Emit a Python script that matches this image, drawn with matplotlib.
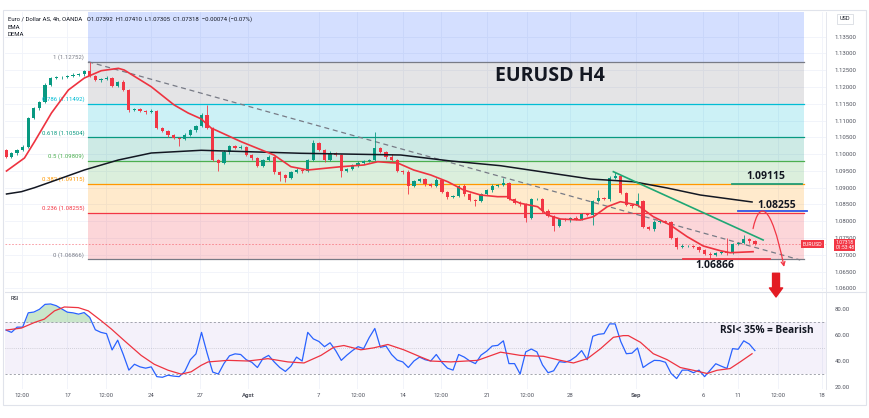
import matplotlib
matplotlib.use("Agg")
import matplotlib.pyplot as plt
import numpy as np
from matplotlib.path import Path
from matplotlib.patches import FancyArrowPatch, Rectangle

plt.rcParams['font.family'] = ['Roboto', 'DejaVu Sans']

# EURUSD 4h chart, candles in 8h steps
# x axis = trading-day index (weekends skipped), Jul 17 = 0
bar_step = 1 / 3
first_bar = -11 / 3
open0 = 1.10123
closes = [1.09914, 1.10033, 1.10123, 1.10212, 1.11076, 1.11374, 1.11553, 1.12059, 1.12267, 1.12297,
          1.12297, 1.12327, 1.12357, 1.12387, 1.12476, 1.12327, 1.12208, 1.12238, 1.12267, 1.12029,
          1.12148, 1.11910, 1.11314, 1.11344, 1.11284, 1.11255, 1.11284, 1.10778, 1.10689, 1.10569,
          1.10480, 1.10450, 1.10569, 1.10718, 1.10838, 1.11165, 1.10778, 1.09825, 1.09735, 1.10063,
          1.10242, 1.10182, 1.10212, 1.09974, 1.09884, 1.09646, 1.09825, 1.09914, 1.09467, 1.09378,
          1.09289, 1.09467, 1.09527, 1.09497, 1.09825, 1.10331, 1.10123, 1.09825, 1.10033, 1.09974,
          1.09497, 1.09557, 1.09676, 1.09735, 1.09795, 1.09825, 1.10182, 1.10063, 1.09914, 1.09825,
          1.09497, 1.09467, 1.09050, 1.09199, 1.09259, 1.09110, 1.09050, 1.09229, 1.08872, 1.08723,
          1.08752, 1.09050, 1.08812, 1.08633, 1.08603, 1.08812, 1.08931, 1.09050, 1.09080, 1.09140,
          1.08663, 1.08544, 1.08514, 1.08097, 1.08663, 1.08663, 1.08306, 1.08157, 1.07859, 1.08067,
          1.08037, 1.08097, 1.08067, 1.08216, 1.08186, 1.08603, 1.08693, 1.08663, 1.09289, 1.09348,
          1.08842, 1.08484, 1.08454, 1.08603, 1.07829, 1.07769, 1.07978, 1.08008, 1.07978, 1.07501,
          1.07233, 1.07263, 1.07263, 1.07233, 1.07144, 1.07025, 1.06995, 1.07054, 1.07084, 1.07054,
          1.07323, 1.07352, 1.07471, 1.07412, 1.07318]
# wick lengths in pips
upper_wick = [3, 4, 3, 5, 4, 3, 4, 5, 3, 4,
              4, 3, 5, 4, 3, 28, 4, 3, 5, 4,
              3, 5, 4, 3, 4, 3, 5, 4, 3, 4,
              3, 4, 5, 3, 4, 5, 30, 3, 4, 5,
              4, 3, 5, 4, 3, 4, 3, 5, 4, 3,
              4, 3, 5, 4, 3, 9, 4, 3, 5, 4,
              3, 4, 3, 5, 4, 3, 48, 4, 3, 9,
              4, 3, 5, 4, 3, 4, 3, 5, 4, 3,
              4, 3, 5, 4, 3, 4, 3, 5, 4, 15,
              4, 3, 5, 4, 3, 4, 3, 5, 4, 3,
              4, 3, 5, 4, 3, 4, 24, 3, 5, 12,
              3, 4, 3, 24, 4, 3, 5, 4, 3, 4,
              3, 5, 4, 3, 4, 3, 5, 4, 3, 42,
              4, 3, 12, 4, 3]
lower_wick = [4, 3, 5, 4, 3, 4, 5, 3, 4, 3,
              5, 4, 3, 4, 5, 3, 4, 5, 3, 4,
              4, 3, 5, 4, 3, 5, 4, 3, 4, 5,
              4, 21, 3, 4, 5, 4, 3, 4, 24, 3,
              5, 4, 3, 4, 5, 3, 4, 3, 5, 18,
              12, 4, 3, 5, 4, 3, 4, 5, 3, 4,
              18, 3, 4, 5, 3, 4, 3, 4, 5, 3,
              4, 5, 24, 3, 4, 5, 3, 4, 3, 5,
              4, 3, 5, 4, 15, 3, 4, 5, 3, 4,
              3, 4, 5, 12, 3, 4, 5, 3, 15, 4,
              3, 5, 4, 3, 4, 30, 3, 4, 5, 3,
              4, 3, 5, 4, 3, 4, 5, 3, 4, 3,
              5, 4, 3, 4, 5, 3, 13, 4, 3, 5,
              3, 4, 3, 5, 4]

# EMA (red) and DEMA (black), read as knots along the curves
ema_days = [-3.63, -2.56, -1.96, -0.95, 0.06, 1.01, 2.02, 3.04, 3.39, 5.0, 6.37, 7.2, 7.98, 8.57,
            10.36, 12.32, 13.33, 14.35, 16.31, 17.68, 18.51, 19.29, 19.7, 20.65, 21.67, 22.68,
            23.63, 24.64, 25.65, 26.25, 26.43, 27.02, 28.04, 28.63, 29.4, 30.6, 31.37, 32.2,
            32.98, 33.99, 34.94, 35.95, 36.96, 37.92, 38.93, 39.52, 40.89]
ema_vals = [1.09497, 1.09884, 1.10370, 1.11225, 1.11910, 1.12267, 1.12485, 1.12556, 1.12506,
            1.12008, 1.11463, 1.11225, 1.11050, 1.10778, 1.10370, 1.09974, 1.09625, 1.09527,
            1.09625, 1.09676, 1.09774, 1.09744, 1.09735, 1.09527, 1.09378, 1.09178, 1.08931,
            1.08782, 1.08732, 1.08732, 1.08650, 1.08535, 1.08434, 1.08186, 1.08067, 1.08037,
            1.08136, 1.08434, 1.08582, 1.08484, 1.08136, 1.07888, 1.07540, 1.07263, 1.07123,
            1.07063, 1.07093]
dema_days = [-3.63, -2.74, -1.96, -0.95, 1.01, 3.04, 5.0, 7.98, 13.93, 19.88, 22.86, 25.83,
             31.19, 33.75, 35.77, 37.74, 40.83]
dema_vals = [1.08812, 1.08881, 1.09000, 1.09178, 1.09527, 1.09825, 1.10033, 1.10114, 1.10025,
             1.09974, 1.09795, 1.09655, 1.09259, 1.09178, 1.08991, 1.08782, 1.08574]

# Fibonacci retracement
fib_ratios = ["0", "0.236", "0.382", "0.5", "0.618", "0.786", "1"]
fib_prices = [1.06866, 1.08255, 1.09115, 1.09809, 1.10504, 1.11492, 1.12752]
fib_colors = ["#787b86", "#f23645", "#ff9800", "#4caf50", "#089981", "#00bcd4", "#787b86"]
fib_start, fib_end = 1.25, 43.93

# RSI per candle and its moving average (knots)
rsi = [63.8, 62, 66, 66, 77, 77.6, 79.7, 83.5, 83.8, 82.5,
       80, 77.5, 77, 76, 77.2, 73.5, 64, 62, 61, 48.5,
       56, 45, 33, 37.5, 35.5, 34.5, 35.5, 28, 27.5, 29.1,
       28.4, 28, 32, 41, 45.5, 62, 46, 31.5, 30, 38,
       44, 45.5, 45, 41, 39, 35, 42, 44.3, 39.3, 35,
       32, 36, 43, 40, 62, 57, 55, 51, 54, 48,
       40.5, 44.5, 48, 51, 49.5, 58, 65, 50.5, 51.5, 45,
       40.7, 39.3, 35, 40, 43, 41, 40, 45, 39, 34.5,
       33, 45, 43, 40, 38, 44.5, 47.5, 51.5, 52, 55.5,
       38, 38, 30, 47, 49.2, 47, 37, 31, 32.5, 39.5,
       39, 40.5, 43.5, 48, 41, 59, 60.5, 61, 68.5, 68.5,
       55, 45.6, 46, 50, 35, 38, 40.5, 40.3, 39, 30.5,
       26.5, 33, 33, 31, 33, 28, 33, 37.9, 36, 34.3,
       49.5, 49, 55.5, 53, 48]
rsi_ma_days = [-3.63, -2.74, -1.96, -1.37, -0.77, -0.18, 0.65, 1.25, 2.02, 2.62,
               3.39, 4.40, 5.18, 6.01, 6.79, 7.38, 7.98, 8.39, 9.58, 10.77,
               11.96, 13.15, 14.11, 15.12, 15.89, 16.49, 17.5, 18.27, 19.11, 20.06,
               21.07, 21.67, 22.86, 24.46, 25.83, 27.02, 28.39, 29.4, 30.18, 31.01,
               31.79, 32.56, 33.15, 33.45, 34.17, 34.94, 35.77, 36.55, 37.32, 38.15,
               38.75, 39.52, 40.12, 40.83]
rsi_ma_vals = [63.8, 65.3, 69.6, 72.2, 78.5, 81.5, 81, 78.5, 70.9, 64.6,
               55.7, 44.3, 37.5, 32.9, 29.9, 31.7, 36.7, 39.3, 40.5, 40,
               41.8, 39.3, 38.5, 44.3, 50.6, 51.9, 48.6, 50.1, 52.7, 48.6,
               43.1, 40, 39.3, 40.5, 46.8, 44.3, 43.6, 40.5, 38.5, 41.8,
               49.4, 58.2, 59.5, 59.5, 54.4, 45.6, 41, 35, 32.9, 30.4,
               32.9, 34.2, 39.3, 45.6]

tick_days = [-2.7, 0, 2.3, 5, 7.9, 10.8, 15, 17.3, 20, 22.3, 25, 27.4, 30, 33.9, 37.9, 40, 42.4, 45]
tick_labels = ["12:00", "17", "12:00", "24", "27", "Agst", "7", "12:00", "14", "12:00", "21",
               "12:00", "28", "Sep", "6", "11", "12:00", "18"]

last_price = 1.07318
GREEN, RED = "#089981", "#f23645"

# ---------------------------------------------------------------------------
W, H = 870, 418
fig = plt.figure(figsize=(W / 100, H / 100), dpi=100)
ax = fig.add_axes([5 / W, 1 - 291 / H, 821 / W, 279 / H])
rx = fig.add_axes([5 / W, 1 - 389 / H, 821 / W, 97 / H], sharex=ax)
ax.set_zorder(3)

xlim = (-3.72, 45.24)
ax.set_xlim(*xlim)
ax.set_ylim(1.05922, 1.14234)

# grid
for t in tick_days:
    ax.axvline(t, color="#f0f3fa", lw=0.6, zorder=0)
    rx.axvline(t, color="#f0f3fa", lw=0.6, zorder=0)
price_ticks = np.arange(1.06, 1.13501, 0.005)
for p in price_ticks:
    ax.axhline(p, color="#f0f3fa", lw=0.6, zorder=0)

# fib zones (fill uses colour of the upper level), top zone blue
levels = fib_prices + [1.16]
zone_cols = fib_colors[1:] + ["#2962ff"]
for i in range(len(levels) - 1):
    ax.fill_between([fib_start, fib_end], levels[i], levels[i + 1], color=zone_cols[i],
                    alpha=0.2, lw=0, zorder=1)
for r, p, c in zip(fib_ratios, fib_prices, fib_colors):
    ax.plot([fib_start, fib_end], [p, p], color=c, lw=0.9, zorder=2)
    ax.annotate(f"{r} ({p:.5f})", (1.0, p), xytext=(0, 1.2), textcoords="offset points",
                ha="right", va="bottom", fontsize=4.3, color=c, zorder=6)

# current price line
ax.axhline(last_price, color=RED, lw=0.6, ls=(0, (2, 2)), alpha=0.55, zorder=2)

# dashed trend line from the swing high
ax.plot([1.25, 43.7], [1.12752, 1.06846], color="#787b86", lw=0.9, ls=(0, (4, 3)), zorder=3)

# candles
x = first_bar + np.arange(len(closes)) * bar_step
c = np.array(closes)
o = np.array([open0] + closes[:-1])
hi = np.maximum(o, c) + np.array(upper_wick) * 1e-4
lo = np.minimum(o, c) - np.array(lower_wick) * 1e-4
cols = np.where(c >= o, GREEN, RED)
ax.vlines(x, lo, hi, colors=cols, lw=0.6, zorder=4)
body = np.maximum(np.abs(c - o), 0.00008)
ax.bar(x, body, bottom=np.minimum(o, c), width=bar_step * 0.58, color=cols, lw=0, zorder=5)

# moving averages
ax.plot(dema_days, dema_vals, color="#131722", lw=1.1, zorder=6)
ax.plot(ema_days, ema_vals, color="#ee3340", lw=1.2, zorder=6)

# green down trend line
ax.plot([32.56, 41.49], [1.09476, 1.07442], color="#1fa774", lw=1.2, zorder=6)

# key level annotations
ax.plot([39.64, 43.81], [1.09119, 1.09119], color="#1f9e7a", lw=1.3, zorder=6)
ax.plot([39.99, 44.11], [1.08297, 1.08297], color="#2f55e8", lw=1.3, zorder=6)
ax.plot([36.73, 41.90], [1.06867, 1.06867], color=RED, lw=1.3, zorder=6)
bold = dict(family=["Open Sans", "DejaVu Sans"], fontweight="bold", color="#131722", zorder=7)
ax.text(41.64, 1.09348, "1.09115", ha="center", va="center", fontsize=7.5, **bold)
ax.text(42.30, 1.08484, "1.08255", ha="center", va="center", fontsize=7.5, **bold)
ax.text(38.63, 1.06667, "1.06866", ha="center", va="center", fontsize=7.5, **bold)
ax.text(28.8, 1.12327, "EURUSD H4", ha="center", va="center", fontsize=14, **bold)

# curved projection arrow
verts = [(40.89, 1.0778), (41.25, 1.0862), (41.95, 1.0858), (42.74, 1.0664)]
path = Path(verts, [Path.MOVETO, Path.CURVE4, Path.CURVE4, Path.CURVE4])
ax.add_patch(FancyArrowPatch(path=path, arrowstyle="->", mutation_scale=7, color=RED,
                             lw=0.9, zorder=7, transform=ax.transData))

# big red down arrow
ax.annotate("", xy=(42.26, 1.05744), xytext=(42.26, 1.06450), annotation_clip=False,
            arrowprops=dict(arrowstyle="simple,head_length=0.65,head_width=0.95,tail_width=0.5",
                            color="#e31b23", shrinkA=0, shrinkB=0, mutation_scale=10),
            zorder=8)

# price axis
ax.yaxis.tick_right()
ax.set_yticks(price_ticks)
ax.set_yticklabels([f"{p:.5f}" for p in price_ticks])
ax.tick_params(axis="y", length=0, pad=6, labelsize=4.3, colors="#50535e")
ax.tick_params(axis="x", length=0, labelbottom=False)
for s in ["top", "left", "bottom"]:
    ax.spines[s].set_visible(False)
ax.spines["right"].set_color("#e0e3eb")
ax.spines["right"].set_linewidth(0.6)

# last price tags
ytr = ax.get_yaxis_transform()
ax.text(0.984, last_price, "EURUSD", transform=ytr, ha="center", va="center", fontsize=3.8,
        color="white", zorder=9,
        bbox=dict(boxstyle="square,pad=0.3", fc=RED, ec="none"))
ax.text(1.023, last_price - 0.0002, "1.07318\n01:53:48", transform=ytr, ha="center",
        va="center", fontsize=3.6, color="white", linespacing=1.0, clip_on=False, zorder=9,
        bbox=dict(boxstyle="square,pad=0.2", fc=RED, ec="none"))

# ---------------------------------------------------------------------------
# RSI pane
rx.set_ylim(18.5, 93)
rx.set_facecolor("none")
rx.axhspan(30, 70, color="#7e57c2", alpha=0.08, lw=0)
for lvl in (70, 30):
    rx.axhline(lvl, color="#9598a1", lw=0.6, ls=(0, (2.5, 2.5)))
rx.axhline(50, color="#9598a1", lw=0.5, ls=(0, (1, 2)), alpha=0.7)
r = np.array(rsi)
rx.fill_between(x, r, 70, where=r > 70, interpolate=True, color="#4caf50", alpha=0.3, lw=0)
rx.plot(x, r, color="#2962ff", lw=0.9)
rx.plot(rsi_ma_days, rsi_ma_vals, color="#ee3340", lw=0.9)
rx.text(-3.4, 88, "RSI", fontsize=4, color="#131722", va="center")
rx.text(41.7, 63.6, "RSI< 35% = Bearish", ha="center", va="center", fontsize=7.3, **bold)

rx.yaxis.tick_right()
rx.set_yticks([20, 40, 60, 80])
rx.set_yticklabels(["20.00", "40.00", "60.00", "80.00"])
rx.tick_params(axis="y", length=0, pad=6, labelsize=4.3, colors="#50535e")
rx.set_xticks(tick_days)
rx.set_xticklabels(tick_labels)
rx.tick_params(axis="x", length=0, pad=3, labelsize=4.3, colors="#50535e")
for lab in rx.get_xticklabels():
    if lab.get_text() in ("Agst", "Sep"):
        lab.set_fontweight("bold")
for s in ["top", "left", "bottom"]:
    rx.spines[s].set_visible(False)
rx.spines["right"].set_color("#e0e3eb")
rx.spines["right"].set_linewidth(0.6)

# pane separator and outer frame
fig.add_artist(plt.Line2D([5 / W, 866 / W], [1 - 291.5 / H] * 2, color="#e0e3eb", lw=0.8))
fig.add_artist(Rectangle((3 / W, 1 - 405 / H), 863 / W, 395 / H, fill=False,
                         ec="#e0e3eb", lw=0.8))

# USD box
fig.text(845 / W, 1 - 19 / H, "USD", ha="center", va="center", fontsize=4, color="#131722",
         bbox=dict(boxstyle="square,pad=0.5", fc="white", ec="#d1d4dc", lw=0.5))

# header
fig.text(8 / W, 1 - 19 / H,
         "Euro / Dollar AS, 4h, OANDA   O1.07392  H1.07410  L1.07305  C1.07318  \u22120.00074 (\u22120.07%)",
         fontsize=4.3, color="#131722", va="center")
fig.text(8 / W, 1 - 27.5 / H, "EMA", fontsize=4.3, color="#131722", va="center")
fig.text(8 / W, 1 - 35 / H, "DEMA", fontsize=4.3, color="#131722", va="center")

fig.savefig("out.png", dpi=100, facecolor="white")
